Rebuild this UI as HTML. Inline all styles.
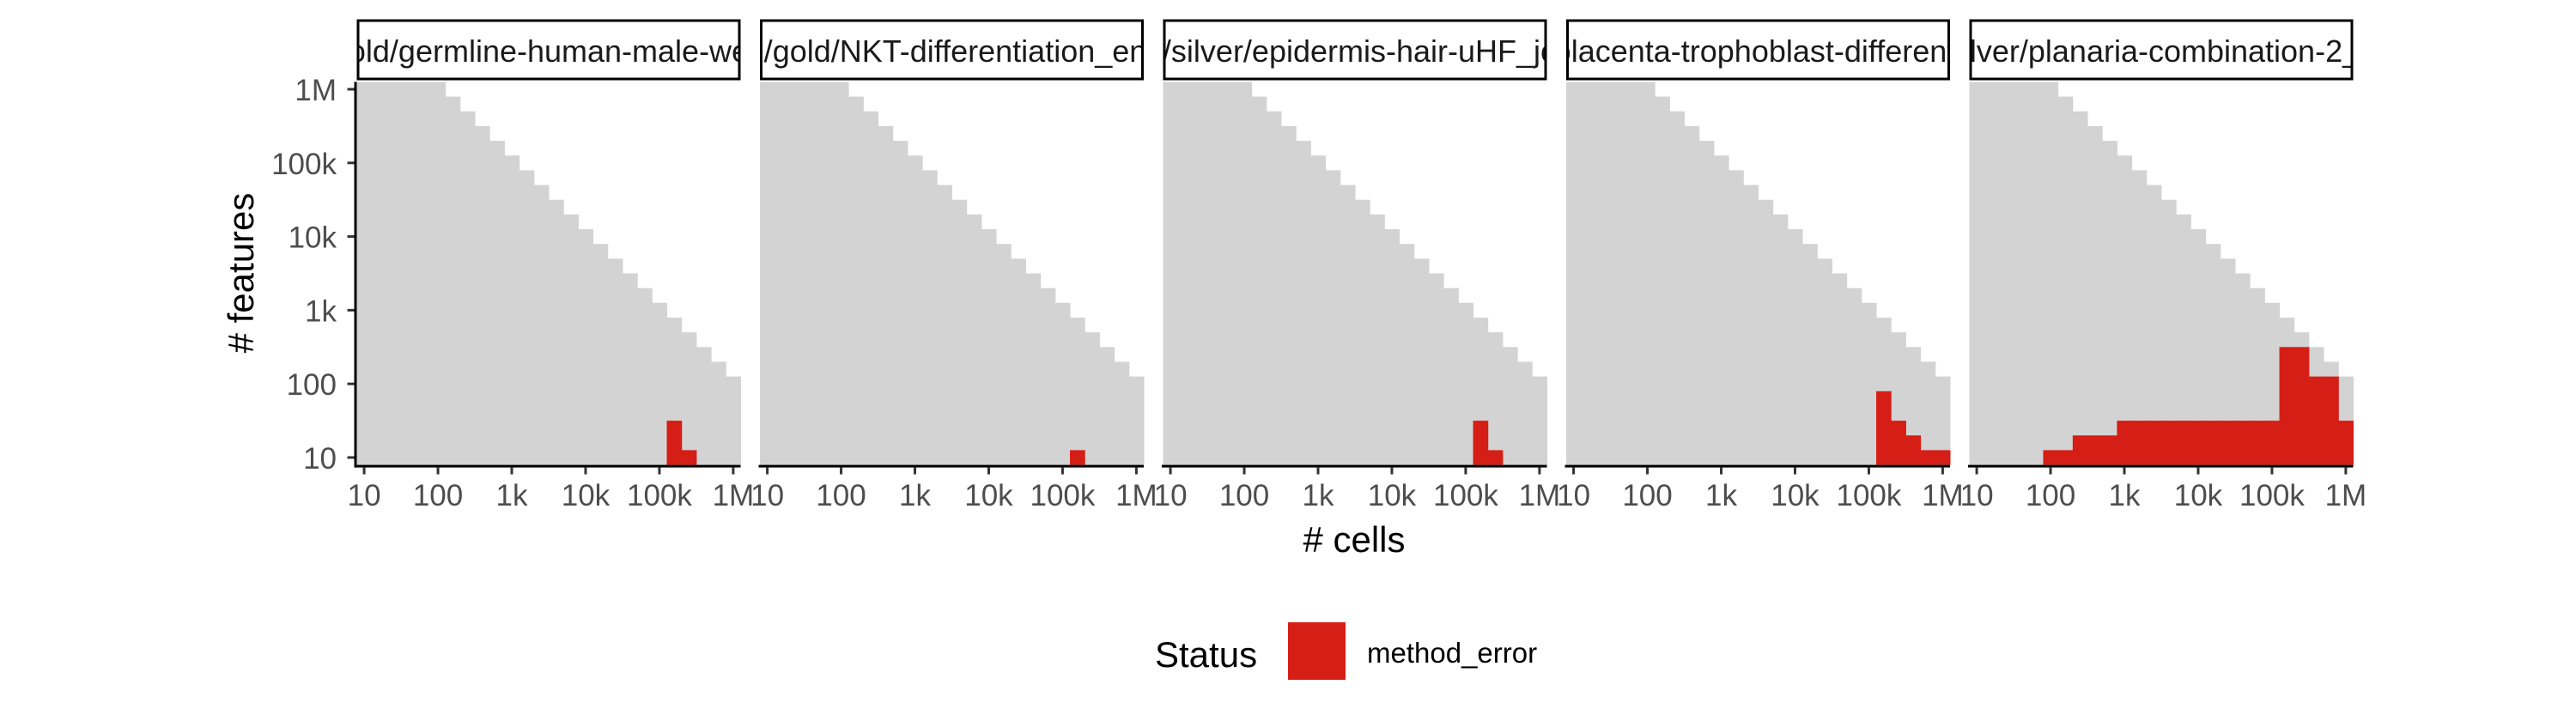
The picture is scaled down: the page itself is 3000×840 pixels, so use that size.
<!DOCTYPE html>
<html><head><meta charset="utf-8"><style>
html,body{margin:0;padding:0;background:#fff;}
svg{display:block;font-family:"Liberation Sans",sans-serif;}
</style></head><body>
<svg id="chart" width="3000" height="840" viewBox="0 0 3000 840" xmlns="http://www.w3.org/2000/svg">
<defs id="defs"></defs>
<g id="plot"></g>
<text x="1577" y="643" font-size="42" text-anchor="middle" fill="#000"># cells</text>
<text transform="translate(295,318) rotate(-90)" font-size="42" text-anchor="middle" fill="#000"># features</text>
<g>
<text x="1345" y="777" font-size="42" fill="#000">Status</text>
<rect x="1500" y="725" width="67" height="67" fill="#d51e15"></rect>
<text x="1592" y="772" font-size="33" fill="#000">method_error</text>
</g>
</svg>
<script>
// facet titles (as visible, clipped)
const panelTitles = ["old/germline-human-male-we","l/gold/NKT-differentiation_en","r/silver/epidermis-hair-uHF_jo","placenta-trophoblast-differenti","ilver/planaria-combination-2_"];
// cell bins (log10 centers)
const cellBins = [1.0,1.2,1.4,1.6,1.8,2.0,2.2,2.4,2.6,2.8,3.0,3.2,3.4,3.6,3.8,4.0,4.2,4.4,4.6,4.8,5.0,5.2,5.4,5.6,5.8,6.0];
// max feature bin (log10) tested per cell bin (gray area)
const grayMaxFeature = [6.0,6.0,6.0,6.0,6.0,6.0,5.8,5.6,5.4,5.2,5.0,4.8,4.6,4.4,4.2,4.0,3.8,3.6,3.4,3.2,3.0,2.8,2.6,2.4,2.2,2.0];
// method_error max feature bin per panel: [cellBin, maxFeatureBin]
const errP1 = [[5.2,1.4],[5.4,1.0]];
const errP2 = [[5.2,1.0]];
const errP3 = [[5.2,1.4],[5.4,1.0]];
const errP4 = [[5.2,1.8],[5.4,1.4],[5.6,1.2],[5.8,1.0],[6.0,1.0]];
const errP5 = [[2.0,1.0],[2.2,1.0],[2.4,1.2],[2.6,1.2],[2.8,1.2],[3.0,1.4],[3.2,1.4],[3.4,1.4],[3.6,1.4],[3.8,1.4],[4.0,1.4],[4.2,1.4],[4.4,1.4],[4.6,1.4],[4.8,1.4],[5.0,1.4],[5.2,2.4],[5.4,2.4],[5.6,2.0],[5.8,2.0],[6.0,1.4]];
const errors = [errP1,errP2,errP3,errP4,errP5];
const xTickVals = [1,2,3,4,5,6];
const xTickLabels = ["10","100","1k","10k","100k","1M"];
const yTickVals = [1,2,3,4,5,6];
const yTickLabels = ["10","100","1k","10k","100k","1M"];

const NS="http://www.w3.org/2000/svg";
const plot=document.getElementById('plot');
const defs=document.getElementById('defs');
const PW=447, PTOP=95.4, PBOT=541.6, X0=415.5, STEP=469.5, LMIN=0.9, LMAX=6.1, BW=0.2;
function xs(p,v){return X0+p*STEP+(v-LMIN)/(LMAX-LMIN)*PW;}
function ys(v){return PBOT-(v-LMIN)/(LMAX-LMIN)*(PBOT-PTOP);}
function mk(tag,attrs,parent){const e=document.createElementNS(NS,tag);for(const k in attrs)e.setAttribute(k,attrs[k]);parent.appendChild(e);return e;}

for(let p=0;p<5;p++){
  const g=mk('g',{},plot);
  
  
  cellBins.forEach((c,i)=>{
    const x1=xs(p,c-BW/2),x2=xs(p,c+BW/2),yt=ys(grayMaxFeature[i]+BW/2);
    const r=mk('rect',{x:x1,y:yt,width:x2-x1+0.5,height:PBOT-yt,fill:'#d3d3d3'},g);
    
    
  });
  errors[p].forEach(d=>{
    const x1=xs(p,d[0]-BW/2),x2=xs(p,d[0]+BW/2),yt=ys(d[1]+BW/2);
    const r=mk('rect',{x:x1,y:yt,width:x2-x1+0.5,height:PBOT-yt,fill:'#d51e15'},g);
    
    
  });
  const left=xs(p,LMIN), right=xs(p,LMAX);
  const cp=mk('clipPath',{id:'clip'+p},defs);
  mk('rect',{x:left,y:22,width:right-left,height:73},cp);
  const sg=mk('g',{'clip-path':'url(#clip'+p+')'},plot);
  
  
  mk('rect',{x:left+1.5,y:24,width:right-left-3,height:68,fill:'#fff'},sg);
  const t=mk('text',{x:(left+right)/2,y:72,'font-size':36,'text-anchor':'middle',fill:'#1a1a1a'},sg);
  t.textContent=panelTitles[p];
  
  
  mk('rect',{x:left+1.5,y:24,width:right-left-3,height:68,fill:'none',stroke:'#000','stroke-width':3},sg);
  const ax=mk('line',{x1:left-1.5,x2:right,y1:PBOT+1.5,y2:PBOT+1.5,stroke:'#000','stroke-width':3},plot);
  
  
  xTickVals.forEach((v,i)=>{
    const x=xs(p,v);
    const tk=mk('line',{x1:x,x2:x,y1:PBOT+3,y2:PBOT+11,stroke:'#333','stroke-width':3},plot);
    
    
    const tl=mk('text',{x:x,y:589,'font-size':35,'text-anchor':'middle',fill:'#4d4d4d'},plot);
    tl.textContent=xTickLabels[i];
    
    
  });
}
const yl=mk('line',{x1:X0-1.5,x2:X0-1.5,y1:PTOP,y2:PBOT+3,stroke:'#000','stroke-width':3},plot);


yTickVals.forEach((v,i)=>{
  const y=ys(v);
  const tk=mk('line',{x1:X0-11,x2:X0-3,y1:y,y2:y,stroke:'#333','stroke-width':3},plot);
  
  
  const tl=mk('text',{x:392,y:y+13,'font-size':35,'text-anchor':'end',fill:'#4d4d4d'},plot);
  tl.textContent=yTickLabels[i];
  
  
});
</script>
</body></html>
